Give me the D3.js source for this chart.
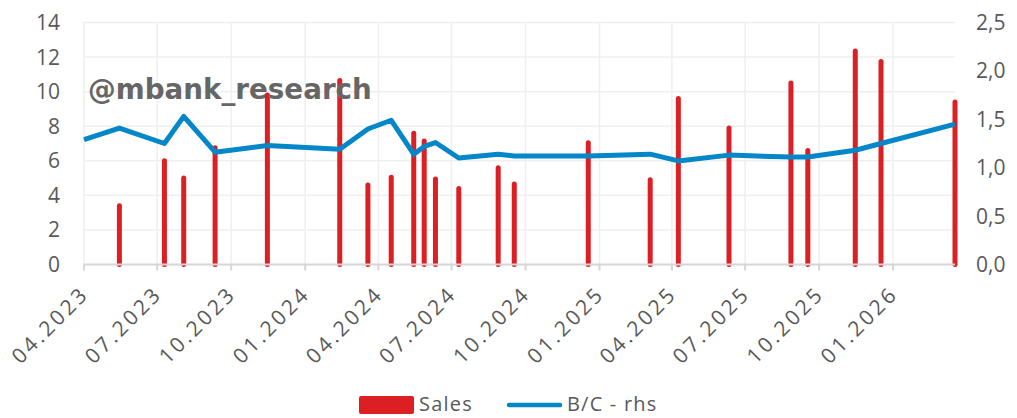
<!DOCTYPE html>
<html>
<head>
<meta charset="utf-8">
<script src="https://cdn.jsdelivr.net/npm/d3@7"></script>
<style>
  body { margin: 0; background: #fff; }
  svg { display: block; font-family: "Open Sans", "Noto Sans", sans-serif; }
</style>
</head>
<body>
<div id="chart"></div>
<script>
// sales (lhs) – one spike per date
var salesDates = ["2023-05-15", "2023-07-10", "2023-08-03", "2023-09-11", "2023-11-15",
    "2024-02-13", "2024-03-19", "2024-04-17", "2024-05-15", "2024-05-28", "2024-06-11",
    "2024-07-10", "2024-08-28", "2024-09-17", "2024-12-18", "2025-03-05", "2025-04-09",
    "2025-06-11", "2025-08-27", "2025-09-17", "2025-11-15", "2025-12-17", "2026-03-19"];
var salesValues = [3.4, 6.0, 5.0, 6.75, 9.8,
    10.65, 4.6, 5.05, 7.6, 7.15, 4.95,
    4.4, 5.6, 4.65, 7.05, 4.9, 9.6,
    7.9, 10.5, 6.6, 12.35, 11.75, 9.4];

// B/C (rhs)
var bcDates = ["2023-04-01", "2023-05-15", "2023-07-10", "2023-08-03", "2023-09-11", "2023-11-15",
    "2024-02-13", "2024-03-19", "2024-04-17", "2024-05-15", "2024-05-28", "2024-06-11",
    "2024-07-10", "2024-08-28", "2024-09-17", "2024-12-18", "2025-03-05", "2025-04-09",
    "2025-06-11", "2025-08-27", "2025-09-17", "2025-11-15", "2025-12-17", "2026-03-19"];
var bcValues = [1.29, 1.41, 1.25, 1.53, 1.16, 1.23,
    1.19, 1.40, 1.49, 1.14, 1.22, 1.26,
    1.10, 1.14, 1.12, 1.12, 1.14, 1.07,
    1.13, 1.11, 1.11, 1.18, 1.25, 1.45];

var leftTicks = [0, 2, 4, 6, 8, 10, 12, 14];
var rightTicks = [0, 0.5, 1, 1.5, 2, 2.5];

var W = 1017, H = 418;
var red = "#dc1f22", blue = "#0487c9", grey = "#595959";
var parse = d3.timeParse("%Y-%m-%d");

var svg = d3.select("#chart").append("svg")
    .attr("width", W)
    .attr("height", H);

var x = d3.scaleTime()
    .domain([parse("2023-04-01"), parse("2026-03-19")])
    .range([84, 955]);
var yL = d3.scaleLinear().domain([0, 14]).range([264.5, 22.5]);
var yR = d3.scaleLinear().domain([0, 2.5]).range([264.5, 22.5]);

var xTicks = d3.timeMonth.every(3).range(parse("2023-04-01"), parse("2026-02-01"));

// grid
svg.append("g")
    .selectAll("line")
    .data(leftTicks.slice(1))
    .enter()
    .append("line")
    .attr("x1", 84).attr("x2", 955)
    .attr("y1", function (d) { return yL(d); })
    .attr("y2", function (d) { return yL(d); })
    .attr("stroke", "#efefef")
    .attr("stroke-width", 1.5);

svg.append("g")
    .selectAll("line")
    .data(xTicks)
    .enter()
    .append("line")
    .attr("x1", function (d) { return x(d); })
    .attr("x2", function (d) { return x(d); })
    .attr("y1", yL(14)).attr("y2", yL(0))
    .attr("stroke", "#efefef")
    .attr("stroke-width", 1.5);

// sales spikes
svg.append("g")
    .selectAll("line")
    .data(salesDates.map(function (d, i) { return {date: parse(d), v: salesValues[i]}; }))
    .enter()
    .append("line")
    .attr("x1", function (d) { return x(d.date); })
    .attr("x2", function (d) { return x(d.date); })
    .attr("y1", yL(0))
    .attr("y2", function (d) { return yL(d.v); })
    .attr("stroke", red)
    .attr("stroke-width", 5)
    .attr("stroke-linecap", "round");

// x axis line + ticks
svg.append("line")
    .attr("x1", 84).attr("x2", 955)
    .attr("y1", yL(0)).attr("y2", yL(0))
    .attr("stroke", "#d6d6d6")
    .attr("stroke-width", 2);

svg.append("g")
    .selectAll("line")
    .data(xTicks)
    .enter()
    .append("line")
    .attr("x1", function (d) { return x(d); })
    .attr("x2", function (d) { return x(d); })
    .attr("y1", yL(0)).attr("y2", yL(0) + 6)
    .attr("stroke", "#d6d6d6")
    .attr("stroke-width", 2);

// B/C line
var line = d3.line()
    .x(function (d) { return x(d.date); })
    .y(function (d) { return yR(d.v); });

svg.append("path")
    .datum(bcDates.map(function (d, i) { return {date: parse(d), v: bcValues[i]}; }))
    .attr("d", line)
    .attr("fill", "none")
    .attr("stroke", blue)
    .attr("stroke-width", 5)
    .attr("stroke-linejoin", "round");

// watermark
var wm = svg.append("text")
    .attr("x", 88).attr("y", 99)
    .attr("font-family", "'DejaVu Sans', Verdana, sans-serif")
    .attr("font-weight", "bold")
    .attr("font-size", 24)
    .attr("fill", "#666")
    .text("@mbank_research");
var wmLen = wm.node().getComputedTextLength();
wm.attr("font-size", 24 * 284 / wmLen);

// left axis labels
svg.append("g")
    .selectAll("text")
    .data(leftTicks)
    .enter()
    .append("text")
    .attr("x", 60)
    .attr("y", function (d) { return yL(d); })
    .attr("dy", "0.36em")
    .attr("text-anchor", "end")
    .attr("font-size", 21)
    .attr("fill", grey)
    .text(function (d) { return d; });

// right axis labels
var fmtR = function (d) { return d3.format(".1f")(d).replace(".", ","); };
svg.append("g")
    .selectAll("text")
    .data(rightTicks)
    .enter()
    .append("text")
    .attr("x", 976)
    .attr("y", function (d) { return yR(d); })
    .attr("dy", "0.36em")
    .attr("font-size", 21)
    .attr("fill", grey)
    .text(fmtR);

// x labels
var fmtX = d3.timeFormat("%m.%Y");
svg.append("g")
    .selectAll("text")
    .data(xTicks)
    .enter()
    .append("text")
    .attr("transform", function (d) { return "translate(" + (x(d) + 1) + ",290) rotate(-45)"; })
    .attr("text-anchor", "end")
    .attr("dy", "0.35em")
    .attr("font-size", 21)
    .attr("letter-spacing", 3)
    .attr("fill", grey)
    .text(fmtX);

// legend
var lg = svg.append("g");
lg.append("rect")
    .attr("x", 359).attr("y", 396)
    .attr("width", 55).attr("height", 18)
    .attr("rx", 2)
    .attr("fill", red);
lg.append("text")
    .attr("x", 419).attr("y", 411)
    .attr("font-size", 20)
    .attr("letter-spacing", 1.2)
    .attr("fill", grey)
    .text("Sales");
lg.append("line")
    .attr("x1", 509).attr("x2", 560)
    .attr("y1", 405).attr("y2", 405)
    .attr("stroke", blue)
    .attr("stroke-width", 4.5)
    .attr("stroke-linecap", "round");
lg.append("text")
    .attr("x", 567).attr("y", 411)
    .attr("font-size", 20)
    .attr("letter-spacing", 1.2)
    .attr("fill", grey)
    .text("B/C - rhs");
</script>
</body>
</html>
